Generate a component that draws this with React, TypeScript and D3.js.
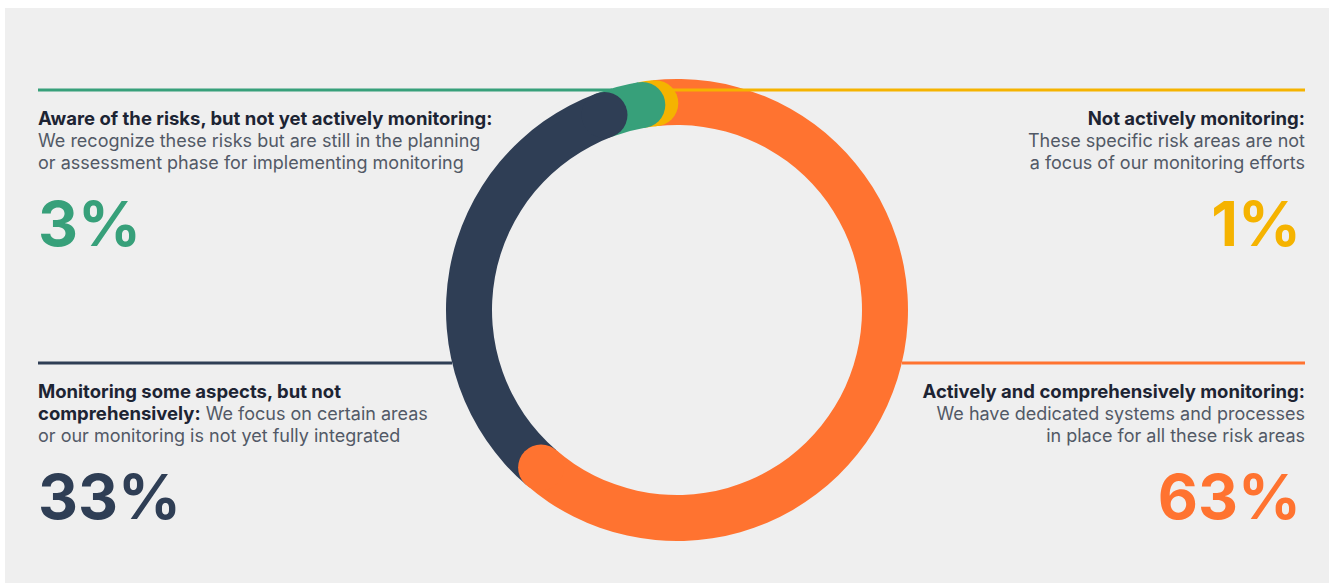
import React from "react";
import * as d3 from "d3";

const categories = [
  "Actively and comprehensively monitoring",
  "Monitoring some aspects, but not comprehensively",
  "Aware of the risks, but not yet actively monitoring",
  "Not actively monitoring",
];
const values = [63, 33, 3, 1];
const colors = ["#ff7330", "#2f3e55", "#37a07a", "#f5b300"];
const percentLabels = ["63%", "33%", "3%", "1%"];

const W = 1329;
const H = 583;
const cx = 677;
const cy = 310;
const outerR = 231;
const innerR = 185;
const startOffset = (-6 * Math.PI) / 180;

const TITLE = "#1d2433";
const BODY = "#525966";
const FONT = "Inter, 'Noto Sans', sans-serif";

export default function App() {
  const pie = d3
    .pie<number>()
    .sort(null)
    .value((d) => d)
    .startAngle(startOffset)
    .endAngle(startOffset + 2 * Math.PI);
  const arcs = pie(values);
  const arcGen = d3.arc<d3.PieArcDatum<number>>().innerRadius(innerR).outerRadius(outerR);
  const midR = (innerR + outerR) / 2;
  const capR = (outerR - innerR) / 2;
  const capOrder = arcs.map((_, i) => i).reverse();

  const titleSize = 18.5;
  const bodySize = 18;
  const pctSize = 62;

  return (
    <div style={{ position: "fixed", left: 0, top: 0 }}>
      <svg width={W} height={H} style={{ display: "block" }} fontFamily={FONT}>
        <rect x={0} y={0} width={W} height={H} fill="#ffffff" />
        <rect x={5} y={8} width={W - 5} height={H - 8} fill="#efefef" />

        <g transform={`translate(${cx},${cy})`}>
          {arcs.map((a, i) => (
            <path key={i} d={arcGen(a) || ""} fill={colors[i]} />
          ))}
          {capOrder.map((i) => (
            <circle
              key={"c" + i}
              cx={Math.sin(arcs[i].endAngle) * midR}
              cy={-Math.cos(arcs[i].endAngle) * midR}
              r={capR}
              fill={colors[i]}
            />
          ))}
        </g>

        {/* leader lines */}
        <line x1={38} x2={612} y1={90} y2={90} stroke={colors[2]} strokeWidth={3} />
        <line x1={672} x2={1305} y1={90} y2={90} stroke={colors[3]} strokeWidth={3} />
        <line x1={38} x2={452} y1={363} y2={363} stroke={colors[1]} strokeWidth={3} />
        <line x1={902} x2={1305} y1={363} y2={363} stroke={colors[0]} strokeWidth={3} />

        {/* top-left: aware */}
        <g fontSize={titleSize}>
          <text x={38} y={125} fill={TITLE} fontWeight={700}>
            {categories[2]}:
          </text>
          <text x={38} y={147} fill={BODY} fontSize={bodySize}>
            We recognize these risks but are still in the planning
          </text>
          <text x={38} y={169} fill={BODY} fontSize={bodySize}>
            or assessment phase for implementing monitoring
          </text>
          <text x={38} y={246} fill={colors[2]} fontSize={pctSize} fontWeight={700}>
            {percentLabels[2]}
          </text>
        </g>

        {/* top-right: not actively */}
        <g fontSize={titleSize} textAnchor="end">
          <text x={1305} y={125} fill={TITLE} fontWeight={700}>
            {categories[3]}:
          </text>
          <text x={1305} y={147} fill={BODY} fontSize={bodySize}>
            These specific risk areas are not
          </text>
          <text x={1305} y={169} fill={BODY} fontSize={bodySize}>
            a focus of our monitoring efforts
          </text>
          <text x={1301} y={246} fill={colors[3]} fontSize={pctSize} fontWeight={700}>
            {percentLabels[3]}
          </text>
        </g>

        {/* bottom-left: some aspects */}
        <g fontSize={titleSize}>
          <text x={38} y={398} fill={TITLE} fontWeight={700}>
            Monitoring some aspects, but not
          </text>
          <text x={38} y={420} fontSize={bodySize}>
            <tspan fill={TITLE} fontWeight={700} fontSize={titleSize}>comprehensively:</tspan>
            <tspan fill={BODY}> We focus on certain areas</tspan>
          </text>
          <text x={38} y={442} fill={BODY} fontSize={bodySize}>
            or our monitoring is not yet fully integrated
          </text>
          <text x={38} y={519} fill={colors[1]} fontSize={pctSize} fontWeight={700}>
            {percentLabels[1]}
          </text>
        </g>

        {/* bottom-right: actively */}
        <g fontSize={titleSize} textAnchor="end">
          <text x={1305} y={398} fill={TITLE} fontWeight={700}>
            {categories[0]}:
          </text>
          <text x={1305} y={420} fill={BODY} fontSize={bodySize}>
            We have dedicated systems and processes
          </text>
          <text x={1305} y={442} fill={BODY} fontSize={bodySize}>
            in place for all these risk areas
          </text>
          <text x={1301} y={519} fill={colors[0]} fontSize={pctSize} fontWeight={700}>
            {percentLabels[0]}
          </text>
        </g>
      </svg>
    </div>
  );
}
